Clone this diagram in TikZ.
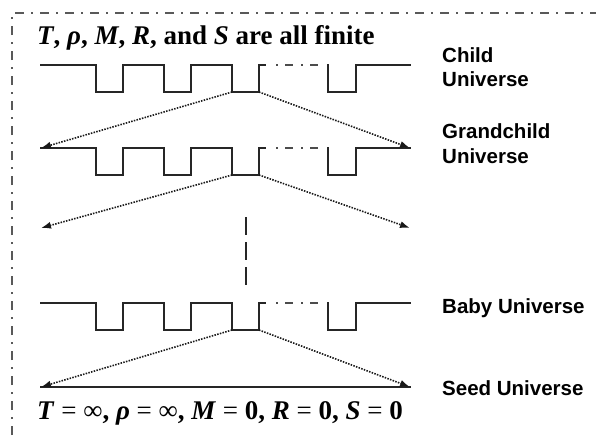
\documentclass[tikz,border=0pt]{standalone}
\usepackage{fontspec}
\setmainfont{Liberation Serif}
\newfontfamily\labelfont{Liberation Sans}
\usetikzlibrary{arrows.meta}
\tikzset{
  wave/.style={line width=1.8pt, black!85, line join=miter, line cap=rect},
  gapline/.style={line width=1.5pt, black!70, dash pattern=on 2pt off 7pt on 8pt off 8pt on 2pt off 7pt on 8pt off 10pt},
  spread/.style={line width=1.6pt, black!90, dash pattern=on 1.5pt off 1.3pt, -{Latex[length=10pt,width=7pt]}},
  framestyle/.style={line width=1.5pt, black!65, dash pattern=on 9pt off 7pt on 2pt off 7pt},
  labeltext/.style={anchor=base west, inner sep=0pt, font=\labelfont\bfseries\fontsize{20.5}{24}\selectfont},
  mathtext/.style={anchor=base west, inner sep=0pt, font=\bfseries\fontsize{27}{31}\selectfont},
  wavepic/.pic={
    \draw[wave] (41,0) -- (96,0) -- (96,27) -- (123,27) -- (123,0) -- (164,0) -- (164,27) -- (191,27) -- (191,0) -- (232,0) -- (232,27) -- (259,27) -- (259,0) -- (265,0);
    \draw[gapline] (276,0) -- (328,0);
    \draw[wave] (328,0) -- (328,27) -- (356,27) -- (356,0) -- (410,0);
    \coordinate (-dl) at (232,27);
    \coordinate (-dr) at (259,27);
    \coordinate (-l) at (41,0);
    \coordinate (-r) at (410,0);
  }
}
\begin{document}
\begin{tikzpicture}[x=1pt,y=-1pt]
\useasboundingbox (0,0) rectangle (596,439);
\begin{scope}
\clip (0,0) rectangle (596,439);
\draw[framestyle] (12,460) -- (12,13) -- (620,13);
\end{scope}

\node[mathtext] (title) at (37,44) {\textit{T}, \textit{ρ}, \textit{M}, \textit{R}, and \textit{S} are all finite};

\pic (child) at (0,65) {wavepic};
\pic (grand) at (0,148) {wavepic};
\pic (baby) at (0,303) {wavepic};

\coordinate (lowL) at (41,228);
\coordinate (lowR) at (410,228);
\coordinate (seedL) at (41,387);
\coordinate (seedR) at (410,387);

\draw[wave] (seedL) -- (seedR);

\draw[spread] (child-dl) -- (grand-l);
\draw[spread] (child-dr) -- (grand-r);
\draw[spread] (grand-dl) -- (lowL);
\draw[spread] (grand-dr) -- (lowR);
\draw[spread] (baby-dl) -- (seedL);
\draw[spread] (baby-dr) -- (seedR);

\coordinate (vtop) at (246,217);
\coordinate (vbot) at (246,285);
\draw[line width=1.8pt, black!85, dash pattern=on 18pt off 7pt] (vtop) -- (vbot);

\node[labeltext] (childA) at (442,62) {Child};
\node[labeltext] (childB) at (442,86) {Universe};
\node[labeltext] (grandA) at (442,138) {Grandchild};
\node[labeltext] (grandB) at (442,163) {Universe};
\node[labeltext] (babyL) at (442,313) {Baby Universe};
\node[labeltext] (seedT) at (442,395) {Seed Universe};

\node[mathtext] (bottom) at (37,419) {\textit{T} {\mdseries =} {\mdseries ∞}, \textit{ρ} {\mdseries =} {\mdseries ∞}, \textit{M} {\mdseries =} 0, \textit{R} {\mdseries =} 0, \textit{S} {\mdseries =} 0};
\end{tikzpicture}
\end{document}
